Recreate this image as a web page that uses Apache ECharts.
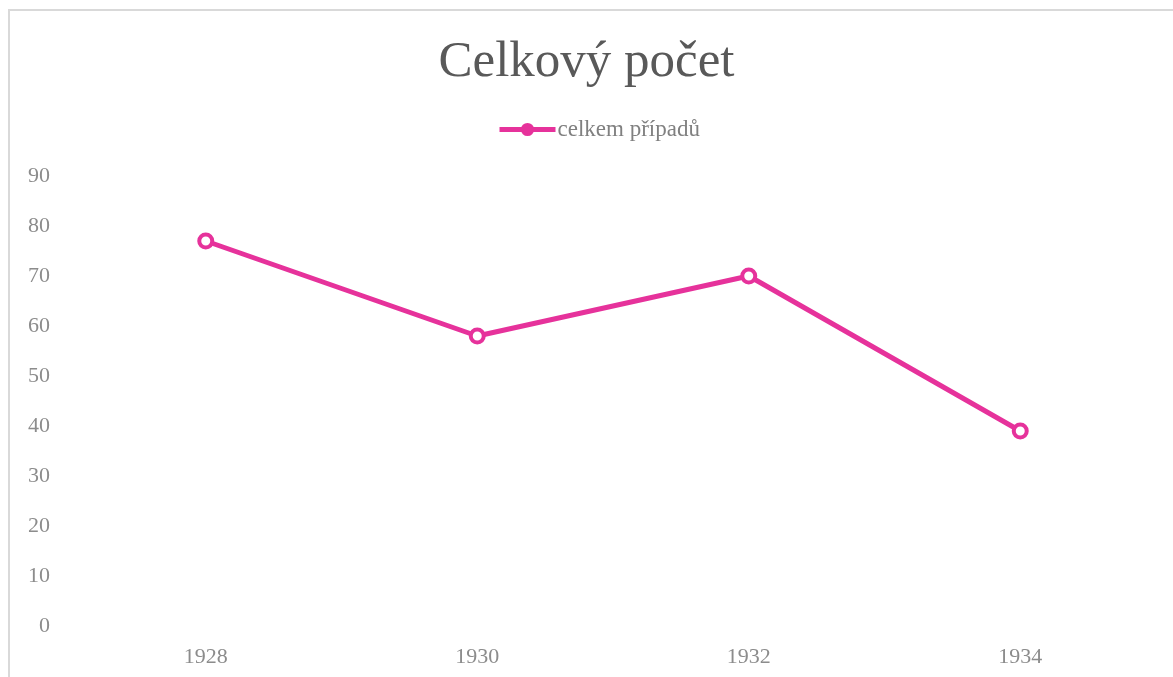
<!DOCTYPE html>
<html>
<head>
<meta charset="utf-8">
<script src="https://cdn.jsdelivr.net/npm/echarts@6/dist/echarts.min.js"></script>
<style>
html,body{margin:0;padding:0;background:#fff;overflow:hidden;}
#chart{position:absolute;left:0;top:0;width:1173px;height:677px;}
#frame{position:absolute;left:8px;top:9px;width:1200px;height:720px;border:2px solid #d9d9d9;pointer-events:none;}
</style>
</head>
<body>
<div id="chart"></div>
<div id="frame"></div>
<script>
const title = 'Celkový počet';
const seriesName = 'celkem případů';
const categories = ['1928', '1930', '1932', '1934'];
const values = [77, 58, 70, 39];

const font = '"Liberation Serif", "Times New Roman", serif';
const pink = '#e6329b';
const chart = echarts.init(document.getElementById('chart'));
chart.setOption({
  backgroundColor: '#fff',
  animation: false,
  title: {
    text: title,
    left: 'center',
    top: 32,
    textStyle: {fontFamily: font, fontSize: 51, fontWeight: 'normal', color: '#595959'}
  },
  legend: {
    data: [seriesName],
    top: 118,
    left: 497,
    padding: 0,
    itemWidth: 56,
    itemHeight: 14,
    itemGap: 2,
    lineStyle: {width: 5, color: pink},
    itemStyle: {color: pink, borderColor: pink, borderWidth: 2},
    textStyle: {fontFamily: font, fontSize: 23, color: '#808080', padding: [0,0,0,-3]}
  },
  grid: {left: 70, right: 17, top: 176, bottom: 51, containLabel: false},
  xAxis: {
    type: 'category',
    data: categories,
    boundaryGap: true,
    axisLine: {show: false},
    axisTick: {show: false},
    axisLabel: {fontFamily: font, fontSize: 22, color: '#8c8c8c', margin: 20}
  },
  yAxis: {
    type: 'value',
    min: 0,
    max: 90,
    interval: 10,
    axisLine: {show: false},
    axisTick: {show: false},
    splitLine: {show: false},
    axisLabel: {fontFamily: font, fontSize: 22, color: '#8c8c8c', margin: 20}
  },
  series: [{
    name: seriesName,
    type: 'line',
    data: values,
    symbol: 'circle',
    symbolSize: 13,
    lineStyle: {color: pink, width: 5},
    itemStyle: {color: '#fff', borderColor: pink, borderWidth: 4}
  }]
});
</script>
</body>
</html>
